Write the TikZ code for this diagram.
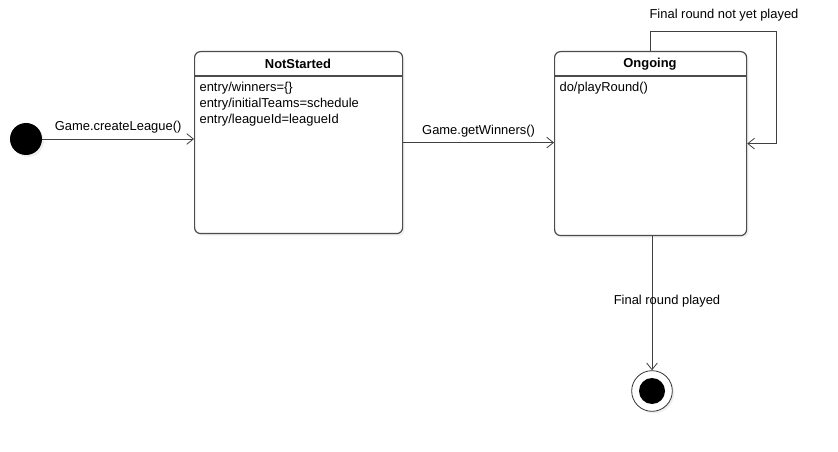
\documentclass[tikz,border=0pt]{standalone}
\usepackage{fontspec}
\setmainfont{Liberation Sans}
\usetikzlibrary{arrows.meta,shadows}

\begin{document}
\begin{tikzpicture}[x=0.75pt,y=-0.75pt,
	state/.style={draw=black!70, line width=0.9pt, fill=white, rounded corners=4.5pt, inner sep=0pt,
		drop shadow={shadow xshift=1.5pt, shadow yshift=-1.5pt, opacity=0.12}},
	trans/.style={draw=black!75, line width=0.6pt, -{Straight Barb[length=5pt,width=8pt]}},
	lbl/.style={font=\fontsize{9.7}{12}\selectfont, inner sep=1pt}]
	% Canvas
	\useasboundingbox (0,0) rectangle (838,452);
	\fill[white] (0,0) rectangle (838,452);

	% Initial and final states
	\node[circle, fill=black, minimum size=24pt, inner sep=0pt,
		drop shadow={shadow xshift=1.5pt, shadow yshift=-1.5pt, opacity=0.12}] (start) at (26,139) {};
	\node[circle, draw=black!80, line width=0.6pt, fill=white, minimum size=30.5pt, inner sep=0pt,
		drop shadow={shadow xshift=1.5pt, shadow yshift=-1.5pt, opacity=0.12}] (final) at (652,391) {};
	\node[circle, fill=black, minimum size=19.5pt, inner sep=0pt] (finaldot) at (final) {};

	% NotStarted
	\node[state, anchor=north west, minimum width=156pt, minimum height=136.5pt] (notstarted) at (194,51) {};
	\draw[black!70, line width=0.9pt] (194,76) -- (402,76);
	\node[lbl, font=\fontsize{9.7}{12}\selectfont\bfseries] (nstitle) at (298,64) {NotStarted};
	\node[lbl, anchor=north west, align=left] (nsbody) at (198,80.5) {entry/winners=\{\}\\entry/initialTeams=schedule\\entry/leagueId=leagueId};

	% Ongoing
	\node[state, anchor=north west, minimum width=144pt, minimum height=138pt] (ongoing) at (554,51) {};
	\draw[black!70, line width=0.9pt] (554,76) -- (746,76);
	\node[lbl, font=\fontsize{9.7}{12}\selectfont\bfseries] (ogtitle) at (650,64) {Ongoing};
	\node[lbl, anchor=north west, align=left] (ogbody) at (558,80.5) {do/playRound()};

	% Transitions
	\draw[trans] (start) -- (start -| notstarted.west)
		node[lbl, midway, above=3pt] (createlbl) {Game.createLeague()};
	\draw[trans] (notstarted.east) -- (notstarted.east -| ongoing.west)
		node[lbl, midway, above=3pt] (winnerslbl) {Game.getWinners()};
	\coordinate (loopcorner) at (776,31);
	\draw[trans] (ongoing.north) |- (loopcorner) |- (ongoing.east);
	\node[lbl] (looplbl) at (724,15) {Final round not yet played};
	\draw[trans] (ongoing.south -| final) -- (final);
	\node[lbl] (endlbl) at (667,301) {Final round played};

\end{tikzpicture}
\end{document}
